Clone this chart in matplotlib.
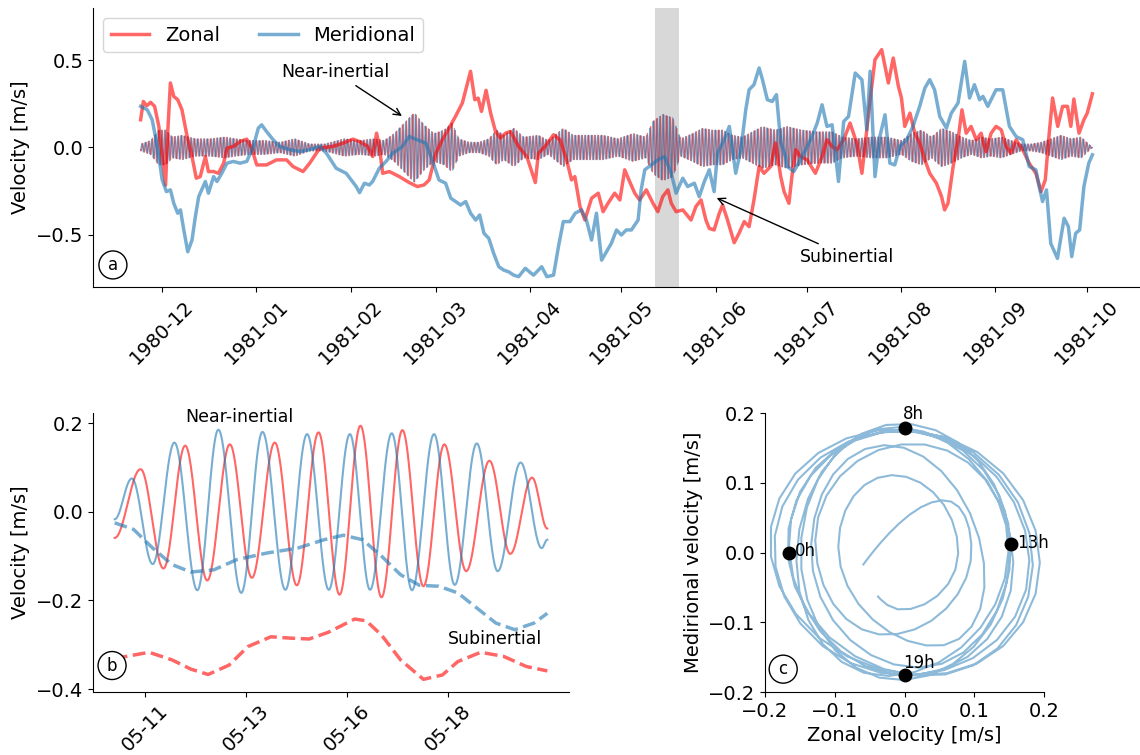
import numpy as np
import matplotlib
matplotlib.use("Agg")
import matplotlib.pyplot as plt
import matplotlib.dates as mdates

# ---------------- data: panel a (days since 1980-12-01) ----------------
zonal_sub_day = [-7.1, -6.2, -5.1, -3.8, -2.5, -1.1, 0.0, 1.1, 1.8, 2.7, 3.8, 5.1, 6.5, 8.2, 9.8,
                 11.2, 12.5, 14.2, 15.2, 16.9, 18.5, 20.2, 21.3, 23.4, 25.6, 27.8, 29.4, 31.1, 34.3,
                 37.6, 40.9, 43.0, 46.3, 48.5, 51.8, 56.1, 59.4, 62.7, 64.9, 67.6, 69.2, 70.5, 71.4,
                 72.5, 74.7, 78.0, 81.2, 83.9, 86.1, 87.8, 90.0, 92.1, 94.3, 96.5, 98.7, 101.4, 102.8,
                 103.9, 105.0, 106.5, 108.0, 109.6, 111.2, 112.9, 114.5, 117.2, 119.9, 122.7, 123.7,
                 125.9, 128.7, 130.8, 133.0, 134.6, 135.7, 137.4, 139.0, 141.2, 143.4, 145.0, 146.6,
                 148.8, 150.5, 152.1, 153.7, 155.4, 157.0, 159.2, 161.4, 163.0, 164.6, 166.3, 167.4,
                 169.0, 171.2, 173.9, 175.5, 177.2, 178.8, 179.9, 181.5, 183.2, 184.3, 185.9, 188.1,
                 189.7, 191.4, 193.0, 194.6, 196.3, 197.9, 200.1, 201.7, 203.4, 204.5, 206.1, 207.2,
                 208.3, 209.9, 212.1, 214.8, 217.0, 218.6, 220.3, 221.9, 224.1, 226.2, 228.4, 230.1,
                 231.1, 232.8, 234.4, 236.6, 238.8, 240.4, 242.1, 243.1, 244.2, 245.9, 247.5, 249.1,
                 250.8, 252.4, 254.6, 256.3, 257.3, 258.4, 260.1, 261.7, 263.0, 264.4, 266.0, 267.7,
                 269.3, 270.9, 272.6, 274.2, 275.9, 277.5, 279.1, 280.8, 283.0, 285.1, 287.3, 289.0,
                 290.4, 291.7, 292.8, 294.5, 296.1, 297.7, 298.8, 299.8, 301.5, 303.1, 304.2, 305.9]
zonal_sub_val = [0.159, 0.264, 0.239, 0.259, 0.236, 0.121, -0.052, -0.215, 0.082, 0.370, 0.293, 0.274,
                 0.216, 0.063, -0.052, -0.176, -0.167, -0.052, -0.138, -0.138, -0.148, -0.090, -0.004,
                 0.006, 0.034, 0.048, -0.004, -0.100, -0.100, -0.071, -0.071, -0.109, -0.138, -0.090,
                 -0.004, 0.006, 0.025, 0.048, 0.034, 0.006, -0.052, 0.082, 0.006, -0.148, -0.138,
                 -0.167, -0.201, -0.224, -0.215, -0.186, -0.033, 0.044, 0.110, 0.180, 0.255, 0.437,
                 0.274, 0.283, 0.207, 0.328, 0.197, 0.092, 0.054, 0.082, 0.092, 0.006, -0.052, -0.201,
                 -0.033, 0.006, 0.073, 0.044, -0.071, -0.186, -0.167, -0.339, -0.416, -0.291, -0.262,
                 -0.368, -0.320, -0.262, -0.301, -0.128, -0.195, -0.262, -0.301, -0.243, -0.320,
                 -0.368, -0.282, -0.243, -0.320, -0.368, -0.358, -0.416, -0.339, -0.301, -0.416,
                 -0.464, -0.473, -0.377, -0.330, -0.416, -0.546, -0.492, -0.425, -0.454, -0.301,
                 -0.109, -0.148, -0.109, 0.025, -0.167, -0.253, -0.320, -0.148, -0.013, -0.052,
                 -0.071, -0.148, -0.052, 0.044, 0.006, -0.013, 0.044, 0.140, 0.025, -0.148, 0.006,
                 0.274, 0.504, 0.561, 0.370, 0.513, 0.351, 0.284, 0.121, 0.197, 0.082, 0.025, -0.071,
                 -0.148, -0.205, -0.282, -0.358, -0.320, -0.109, 0.044, 0.216, 0.082, 0.121, 0.044,
                 0.082, -0.023, 0.082, 0.121, 0.102, 0.006, -0.033, 0.044, -0.013, -0.090, -0.148,
                 -0.253, -0.186, 0.082, 0.284, 0.121, 0.236, 0.236, 0.121, 0.278, 0.082, 0.159,
                 0.197, 0.308]

merid_sub_day = [-7.1, -4.9, -3.3, -1.6, 0.0, 1.4, 2.7, 3.8, 5.1, 6.0, 7.1, 8.4, 9.8, 10.9, 12.0,
                 14.2, 15.2, 16.9, 18.0, 19.6, 21.3, 23.4, 25.6, 27.8, 30.0, 31.6, 32.7, 34.3, 36.5,
                 38.7, 42.0, 45.2, 48.5, 51.8, 54.0, 57.2, 60.5, 63.8, 64.9, 66.5, 68.1, 69.2, 71.4,
                 73.6, 75.8, 79.0, 81.2, 83.9, 86.7, 88.8, 91.0, 93.2, 94.9, 96.5, 98.1, 99.8, 101.4,
                 103.1, 104.4, 105.8, 107.4, 109.0, 110.7, 112.3, 113.9, 115.6, 117.2, 119.4, 122.1,
                 124.8, 126.5, 128.7, 130.3, 131.9, 134.1, 135.8, 137.9, 139.5, 141.2, 142.8, 144.5,
                 146.1, 147.7, 149.4, 151.0, 152.6, 154.3, 156.5, 157.5, 158.7, 160.8, 163.0, 165.2,
                 167.4, 169.0, 171.2, 172.8, 175.0, 176.6, 178.3, 179.9, 181.5, 182.6, 184.8, 186.5,
                 188.6, 190.3, 191.9, 193.0, 194.6, 196.3, 197.4, 199.0, 200.6, 202.0, 203.4, 205.0,
                 205.6, 207.7, 209.9, 213.2, 215.4, 217.0, 218.6, 220.3, 222.4, 224.1, 225.7, 227.9,
                 230.1, 231.7, 232.8, 234.4, 236.0, 237.7, 239.3, 240.9, 242.6, 244.8, 246.9, 249.1,
                 250.8, 252.4, 254.0, 255.7, 257.9, 259.5, 261.7, 263.9, 265.5, 267.1, 268.8, 269.9,
                 271.5, 274.2, 276.4, 278.6, 280.8, 283.0, 285.1, 287.3, 288.4, 289.5, 290.8, 292.2,
                 294.4, 296.6, 298.0, 299.1, 300.4, 301.7, 303.1, 304.7, 305.9]
merid_sub_val = [0.236, 0.216, 0.159, 0.006, -0.186, -0.253, -0.243, -0.320, -0.377, -0.358, -0.473,
                 -0.598, -0.531, -0.397, -0.282, -0.195, -0.262, -0.167, -0.195, -0.148, -0.090,
                 -0.080, -0.090, -0.080, 0.006, 0.111, 0.130, 0.092, 0.044, 0.006, -0.013, -0.023,
                 -0.013, 0.006, -0.033, -0.119, -0.148, -0.224, -0.259, -0.205, -0.215, -0.195,
                 -0.119, -0.080, -0.033, 0.006, 0.063, 0.044, 0.025, -0.071, -0.186, -0.205, -0.291,
                 -0.310, -0.330, -0.310, -0.377, -0.416, -0.387, -0.492, -0.521, -0.607, -0.684,
                 -0.703, -0.713, -0.732, -0.741, -0.693, -0.732, -0.684, -0.741, -0.732, -0.569,
                 -0.425, -0.425, -0.377, -0.358, -0.416, -0.531, -0.377, -0.646, -0.598, -0.550,
                 -0.473, -0.502, -0.473, -0.473, -0.416, -0.243, -0.128, -0.100, -0.071, -0.052,
                 -0.148, -0.262, -0.176, -0.224, -0.205, -0.282, -0.195, -0.128, -0.253, -0.033,
                 0.044, 0.121, -0.148, -0.013, 0.216, 0.331, 0.360, 0.456, 0.389, 0.274, 0.264,
                 0.303, 0.030, -0.052, -0.109, -0.138, -0.071, 0.044, 0.140, 0.245, 0.121, 0.130,
                 -0.195, 0.149, 0.178, 0.427, 0.389, 0.102, 0.437, -0.167, 0.063, 0.188, -0.090,
                 -0.100, 0.006, 0.044, 0.121, 0.236, 0.341, 0.389, 0.331, 0.178, 0.111, 0.197,
                 0.255, 0.494, 0.284, 0.360, 0.274, 0.293, 0.236, 0.331, 0.331, 0.121, 0.063, 0.044,
                 -0.109, -0.128, -0.224, -0.310, -0.243, -0.550, -0.636, -0.406, -0.454, -0.626,
                 -0.492, -0.473, -0.224, -0.090, -0.042]

# near-inertial amplitude envelope (days since 1980-12-01, m/s)
ni_env_day = [-7.1, -3.8, -1.2, 1.1, 3.4, 6.6, 10.9, 15.8, 20.7, 24.0, 28.9, 33.8, 38.7, 43.6, 48.5,
              53.4, 59.9, 64.9, 69.8, 73.0, 76.3, 79.6, 82.9, 86.1, 89.4, 92.7, 95.3, 97.6, 100.9,
              104.2, 107.4, 110.0, 112.3, 115.6, 118.9, 123.7, 127.0, 131.9, 135.2, 140.1, 145.0,
              149.9, 154.8, 159.0, 161.4, 164.6, 167.9, 170.5, 174.4, 177.7, 180.9, 184.3, 187.5,
              190.8, 194.1, 197.4, 201.6, 205.5, 210.4, 215.4, 220.3, 223.6, 228.4, 233.4, 238.3,
              243.1, 246.4, 249.7, 253.0, 256.3, 259.6, 262.9, 266.2, 269.4, 272.7, 276.0, 279.2,
              282.5, 285.8, 289.0, 292.3, 295.6, 298.9, 302.2, 305.9]
ni_env_amp = [0.02, 0.04, 0.10, 0.10, 0.06, 0.07, 0.05, 0.05, 0.06, 0.05, 0.04, 0.04, 0.03, 0.05,
              0.02, 0.02, 0.05, 0.04, 0.05, 0.04, 0.08, 0.14, 0.20, 0.13, 0.08, 0.10, 0.14, 0.05,
              0.03, 0.03, 0.05, 0.10, 0.07, 0.11, 0.06, 0.07, 0.04, 0.11, 0.07, 0.07, 0.07, 0.05,
              0.08, 0.06, 0.15, 0.19, 0.17, 0.05, 0.08, 0.11, 0.10, 0.10, 0.07, 0.06, 0.09, 0.12,
              0.10, 0.12, 0.10, 0.09, 0.09, 0.06, 0.05, 0.06, 0.06, 0.04, 0.08, 0.10, 0.06, 0.11,
              0.09, 0.06, 0.04, 0.06, 0.05, 0.06, 0.04, 0.02, 0.02, 0.03, 0.05, 0.07, 0.05, 0.06,
              0.0]
ni_period_hours = 25.7
shade_day = [161.9, 169.9]

# ---------------- data: panel b (hours since 1981-05-10 06:00) ----------------
merid_ni_hour = [0, 10.2, 22.6, 35.5, 49.1, 61.6, 75.2, 87.8, 101.4, 114.3, 127.2, 139.7, 151.7,
                 164.6, 176.6, 189.7, 202.0, 215.1, 227.5, 241.1, 253.6, 257.0]
merid_ni_val = [-0.017, 0.075, -0.118, 0.156, -0.177, 0.185, -0.183, 0.180, -0.176, 0.175, -0.176,
                0.175, -0.176, 0.177, -0.177, 0.175, -0.165, 0.154, -0.134, 0.111, -0.082, -0.063]
zonal_ni_hour = [0, 15.4, 29.0, 41.9, 55.0, 68.4, 81.5, 95.1, 108.2, 121.1, 133.6, 146.0, 158.5,
                 170.9, 183.4, 195.8, 208.8, 222.6, 235.0, 247.9, 257.0]
zonal_ni_val = [-0.059, 0.096, -0.128, 0.149, -0.155, 0.152, -0.149, 0.156, -0.166, 0.179, -0.187,
                0.194, -0.193, 0.184, -0.168, 0.152, -0.134, 0.115, -0.095, 0.077, -0.038]
merid_subb_hour = [0, 11.3, 22.6, 34.0, 45.3, 58.9, 72.5, 90.6, 108.7, 124.5, 135.8, 147.2, 158.5,
                   169.8, 181.1, 192.5, 203.8, 215.1, 226.4, 237.7, 249.1, 257.0]
merid_subb_val = [-0.025, -0.040, -0.082, -0.119, -0.136, -0.131, -0.108, -0.093, -0.082, -0.063,
                  -0.053, -0.063, -0.100, -0.142, -0.166, -0.168, -0.183, -0.217, -0.251, -0.266,
                  -0.251, -0.229]
zonal_subb_hour = [0, 20.4, 34.0, 45.3, 55.5, 67.9, 79.2, 92.8, 104.2, 115.5, 126.8, 142.6, 149.4,
                   158.5, 169.8, 183.4, 194.7, 203.8, 217.4, 230.9, 244.5, 257.0]
zonal_subb_val = [-0.331, -0.317, -0.334, -0.355, -0.367, -0.346, -0.304, -0.282, -0.285, -0.287,
                  -0.272, -0.242, -0.246, -0.278, -0.334, -0.378, -0.368, -0.338, -0.317, -0.326,
                  -0.349, -0.359]
b_ticks = ["1981-05-11T00:00", "1981-05-13T12:00", "1981-05-16T00:00", "1981-05-18T12:00"]

# ---------------- data: panel c markers ----------------
mark_u = [-0.165, 0.0, 0.153, 0.0]
mark_v = [0.0, 0.178, 0.012, -0.175]
mark_lab = ["0h", "8h", "13h", "19h"]

# ---------------- helpers ----------------
RED = (1.0, 0.0, 0.0, 0.6)
BLUE = matplotlib.colors.to_rgba("C0", 0.6)
BLUE_C = matplotlib.colors.to_rgba("C0", 0.5)

base_a = mdates.date2num(np.datetime64("1980-12-01T00:00"))
base_b = mdates.date2num(np.datetime64("1981-05-10T06:00"))


def through_extremes(tk, vk, t):
    tk = np.asarray(tk, float)
    vk = np.asarray(vk, float)
    i = np.clip(np.searchsorted(tk, t, side="right") - 1, 0, len(tk) - 2)
    f = (t - tk[i]) / (tk[i + 1] - tk[i])
    return vk[i] + (vk[i + 1] - vk[i]) * (1 - np.cos(np.pi * f)) / 2


plt.rcParams["font.family"] = "DejaVu Sans"
fig = plt.figure(figsize=(11.4, 7.55), dpi=100)
ax1 = fig.add_axes([0.0816, 0.6199, 0.9184, 0.3695])
ax2 = fig.add_axes([0.0816, 0.0834, 0.4175, 0.3695])
ax3 = fig.add_axes([0.6711, 0.0834, 0.2447, 0.3695])
for ax in (ax1, ax2, ax3):
    ax.spines["top"].set_visible(False)
    ax.spines["right"].set_visible(False)
    ax.tick_params(labelsize=14)

# ---------------- panel a ----------------
t_ni = np.arange(ni_env_day[0], ni_env_day[-1], 1 / 24.0)
env = np.interp(t_ni, ni_env_day, ni_env_amp)
phase = 2 * np.pi * t_ni * 24.0 / ni_period_hours
ax1.axvspan(base_a + shade_day[0], base_a + shade_day[1], color="gray", alpha=0.3, lw=0)
ax1.plot(base_a + t_ni, env * np.cos(phase), color=RED, lw=0.8)
ax1.plot(base_a + t_ni, -env * np.sin(phase), color=BLUE, lw=0.8)
ax1.plot(base_a + np.array(zonal_sub_day), zonal_sub_val, color=RED, lw=2.5, label="Zonal")
ax1.plot(base_a + np.array(merid_sub_day), merid_sub_val, color=BLUE, lw=2.5, label="Meridional")
ax1.set_ylim(-0.8, 0.8)
ax1.set_yticks([-0.5, 0.0, 0.5])
ax1.set_ylabel("Velocity [m/s]", fontsize=14)
ax1.xaxis.set_major_locator(mdates.MonthLocator())
ax1.xaxis.set_major_formatter(mdates.DateFormatter("%Y-%m"))
plt.setp(ax1.get_xticklabels(), rotation=45)
ax1.legend(loc="upper left", ncol=2, fontsize=14)
ax1.annotate("Near-inertial", xy=(base_a + 79.6, 0.172), xytext=(base_a + 57.0, 0.431),
             ha="center", va="center", fontsize=12.5,
             arrowprops=dict(arrowstyle="->", color="black", lw=1))
ax1.annotate("Subinertial", xy=(base_a + 181.5, -0.283), xytext=(base_a + 225.2, -0.626),
             ha="center", va="center", fontsize=12.5,
             arrowprops=dict(arrowstyle="->", color="black", lw=1))
ax1.text(0.019, 0.079, "a", transform=ax1.transAxes, ha="center", va="center", fontsize=12,
         bbox=dict(boxstyle="circle,pad=0.3", fc="white", ec="black", lw=1))

# ---------------- panel b ----------------
tb = np.linspace(0, zonal_ni_hour[-1], 1500)
zb = through_extremes(zonal_ni_hour, zonal_ni_val, tb)
mb = through_extremes(merid_ni_hour, merid_ni_val, tb)
ax2.plot(base_b + tb / 24.0, zb, color=RED, lw=1.5)
ax2.plot(base_b + tb / 24.0, mb, color=BLUE, lw=1.5)
ax2.plot(base_b + np.array(merid_subb_hour) / 24.0, merid_subb_val, color=BLUE, lw=2.5, ls="--")
ax2.plot(base_b + np.array(zonal_subb_hour) / 24.0, zonal_subb_val, color=RED, lw=2.5, ls="--")
ax2.set_yticks([-0.4, -0.2, 0.0, 0.2])
ax2.set_ylabel("Velocity [m/s]", fontsize=14)
ax2.set_xticks([mdates.date2num(np.datetime64(s)) for s in b_ticks])
ax2.xaxis.set_major_formatter(mdates.DateFormatter("%m-%d"))
plt.setp(ax2.get_xticklabels(), rotation=45)
ax2.text(base_b + 74.0 / 24, 0.214, "Near-inertial", ha="center", va="center", fontsize=12.5)
ax2.text(base_b + 225.7 / 24, -0.288, "Subinertial", ha="center", va="center", fontsize=12.5)
ax2.text(0.04, 0.095, "b", transform=ax2.transAxes, ha="center", va="center", fontsize=12,
         bbox=dict(boxstyle="circle,pad=0.3", fc="white", ec="black", lw=1))

# ---------------- panel c ----------------
th = np.arange(0, zonal_ni_hour[-1] + 0.01, 1.0)
uc = through_extremes(zonal_ni_hour, zonal_ni_val, th)
vc = through_extremes(merid_ni_hour, merid_ni_val, th)
ax3.plot(uc, vc, color=BLUE_C, lw=1.5)
ax3.plot(mark_u, mark_v, "o", color="black", ms=9, ls="none")
offsets = [((4, 1), "center"), ((-1, 7), "baseline"), ((4.5, 1), "center"), ((-1, 5), "baseline")]
for u, v, lab, (off, va) in zip(mark_u, mark_v, mark_lab, offsets):
    ax3.annotate(lab, (u, v), xytext=off, textcoords="offset points", ha="left", va=va,
                 fontsize=12)
ax3.set_xlim(-0.2, 0.2)
ax3.set_ylim(-0.2, 0.2)
ax3.set_xticks([-0.2, -0.1, 0.0, 0.1, 0.2])
ax3.set_yticks([-0.2, -0.1, 0.0, 0.1, 0.2])
ax3.set_xlabel("Zonal velocity [m/s]", fontsize=14)
ax3.set_ylabel("Medirional velocity [m/s]", fontsize=14)
ax3.text(0.065, 0.082, "c", transform=ax3.transAxes, ha="center", va="center", fontsize=12,
         bbox=dict(boxstyle="circle,pad=0.3", fc="white", ec="black", lw=1))

fig.savefig("out.png", dpi=100)
